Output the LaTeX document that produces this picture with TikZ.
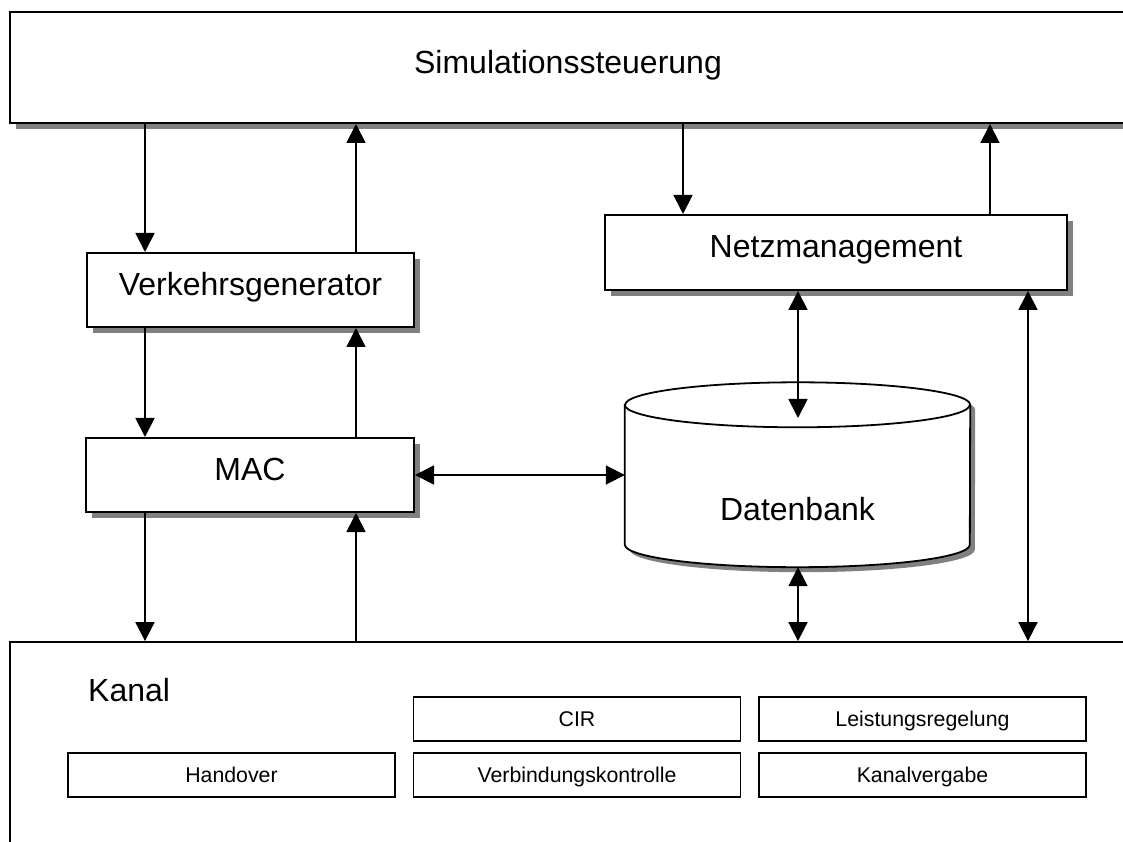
\documentclass[tikz,border=0pt]{standalone}
\usepackage{fontspec}
\setmainfont{Liberation Sans}
\usetikzlibrary{arrows.meta,shadows}
\definecolor{shadowgray}{RGB}{128,128,128}
\begin{document}
\begin{tikzpicture}[x=1pt,y=1pt,
  bigfont/.style={font=\fontsize{32pt}{38pt}\selectfont},
  smallfont/.style={font=\fontsize{21.3pt}{26pt}\selectfont},
  blockshadow/.style={drop shadow={shadow xshift=6pt,shadow yshift=-6pt,fill=shadowgray,opacity=1}},
  bigbox/.style={draw=black,line width=2pt,fill=white,inner sep=0pt,
    minimum height=74pt,bigfont,text height=23pt,text depth=12pt,blockshadow},
  smallbox/.style={draw=black,line width=1.8pt,fill=white,inner sep=0pt,
    minimum width=327pt,minimum height=44pt,smallfont,text height=15.3pt,text depth=0pt},
  link/.style={line width=1.8pt,-{Triangle[length=19pt,width=19pt]}},
  biglink/.style={line width=1.8pt,{Triangle[length=19pt,width=19pt]}-{Triangle[length=19pt,width=19pt]}},
]
\useasboundingbox (0,0) rectangle (1123,841);
\fill[white] (0,0) rectangle (1123,841);
\clip (0,0) rectangle (1123,841);

% columns used by the vertical connectors
\coordinate (colA) at (145,0);
\coordinate (colB) at (356,0);
\coordinate (colC) at (683,0);
\coordinate (colD) at (990,0);
\coordinate (colE) at (798,0);
\coordinate (colF) at (1028,0);

% channel frame (runs off the page to the right and bottom)
\node[draw=black,line width=1.8pt,fill=white,inner sep=0pt,
      minimum width=1130pt,minimum height=240pt] (kanal) at (575,79) {};
\node[bigfont,inner sep=0pt,anchor=base west] (kanaltext) at (88,140) {Kanal};

% sub-blocks of the channel
\node[smallbox] (cir) at (577,122) {CIR};
\node[smallbox] (lr)  at (922.5,122) {Leistungsregelung};
\node[smallbox] (ho)  at (231.5,66) {Handover};
\node[smallbox] (vk)  at (577,66) {Verbindungskontrolle};
\node[smallbox] (kv)  at (922.5,66) {Kanalvergabe};

% main blocks
\node[bigbox,minimum width=1116pt,minimum height=111pt,text depth=10pt] (sim) at (568,773.5) {Simulationssteuerung};
\node[bigbox,minimum width=327pt] (vg)  at (250.5,551) {Verkehrsgenerator};
\node[bigbox,minimum width=462pt,minimum height=75pt] (nm) at (836,588.5) {Netzmanagement};
\node[bigbox,minimum width=328pt] (mac) at (250,366) {MAC};

% database cylinder
\node[inner sep=0pt,minimum width=345pt,minimum height=184.5pt] (db) at (797.5,366.25) {};
\coordinate (dbTL) at ([yshift=-22.5pt]db.north west);
\coordinate (dbTR) at ([yshift=-22.5pt]db.north east);
\coordinate (dbBL) at ([yshift=22.5pt]db.south west);
\fill[shadowgray] ([shift={(5pt,-5pt)}]dbTL) -- ([shift={(5pt,-5pt)}]dbBL)
  arc[start angle=180,end angle=360,x radius=172.5pt,y radius=22.5pt]
  -- ([shift={(5pt,-5pt)}]dbTR)
  arc[start angle=0,end angle=180,x radius=172.5pt,y radius=22.5pt] -- cycle;
\draw[line width=1.8pt,fill=white] (dbTL) -- (dbBL)
  arc[start angle=180,end angle=360,x radius=172.5pt,y radius=22.5pt]
  -- (dbTR)
  arc[start angle=0,end angle=180,x radius=172.5pt,y radius=22.5pt] -- cycle;
\draw[line width=1.8pt] (dbTL) arc[start angle=180,end angle=360,x radius=172.5pt,y radius=22.5pt];
\node[bigfont,inner sep=0pt,anchor=base] (dbtext) at ([yshift=-46.25pt]db.center) {Datenbank};
\coordinate (dbIn) at (798,423);

% connectors
\draw[link] (sim.south -| colA) -- (vg.north -| colA);
\draw[link] (vg.north -| colB) -- (sim.south -| colB);
\draw[link] (sim.south -| colC) -- (nm.north -| colC);
\draw[link] (nm.north -| colD) -- (sim.south -| colD);
\draw[link] (vg.south -| colA) -- (mac.north -| colA);
\draw[link] (mac.north -| colB) -- (vg.south -| colB);
\draw[biglink] (mac.east) -- (mac.east -| db.west);
\draw[biglink] (nm.south -| colE) -- (dbIn);
\draw[biglink] (db.south -| colE) -- (kanal.north -| colE);
\draw[biglink] (nm.south -| colF) -- (kanal.north -| colF);
\draw[link] (mac.south -| colA) -- (kanal.north -| colA);
\draw[link] (kanal.north -| colB) -- (mac.south -| colB);
\end{tikzpicture}
\end{document}
